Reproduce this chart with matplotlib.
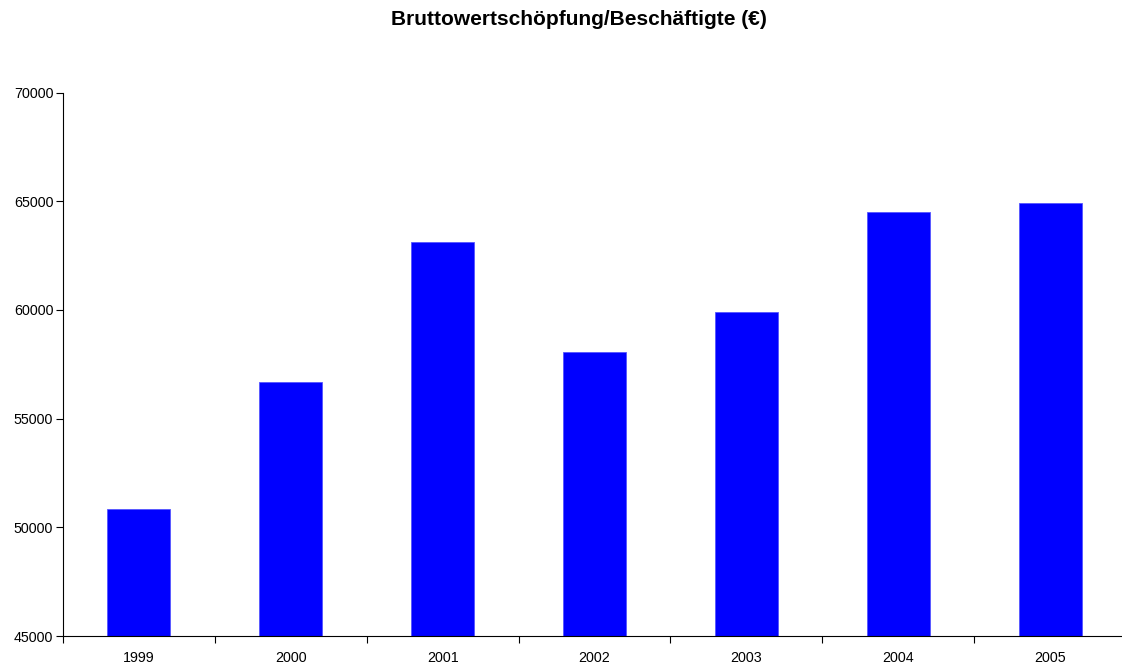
import matplotlib
matplotlib.use("Agg")
import matplotlib.pyplot as plt
import numpy as np

plt.rcParams['font.family'] = ['Liberation Sans', 'DejaVu Sans']

years = ["1999", "2000", "2001", "2002", "2003", "2004", "2005"]
values = [50830, 56680, 63120, 58060, 59900, 64490, 64930]
title = "Bruttowertschöpfung/Beschäftigte (€)"
yticks = [45000, 50000, 55000, 60000, 65000, 70000]

W, H = 1122, 667
fig = plt.figure(figsize=(W / 100, H / 100), dpi=100)
left, right, top, bottom = 63, 1126, 92.5, 636
ax = fig.add_axes([left / W, 1 - bottom / H, (right - left) / W, (bottom - top) / H])

x = np.arange(len(years))
ax.bar(x, values, width=0.415, color="#0000FF", edgecolor="#5555FF", linewidth=0.6, zorder=2)
ax.set_xlim(-0.5, len(years) - 0.5)
ax.set_ylim(45000, 70000)
ax.set_yticks(yticks)
ax.set_yticklabels([str(v) for v in yticks], fontsize=10.3)
ax.set_xticks(x)
ax.set_xticklabels(years, fontsize=10.3)
ax.tick_params(axis='x', length=0, pad=11)
ax.set_xticks(np.arange(len(years) + 1) - 0.5, minor=True)
ax.tick_params(axis='x', which='minor', length=5, direction='out', width=0.8)
ax.tick_params(axis='y', length=5, direction='out', width=0.8, pad=2)
for s in ['top', 'right']:
    ax.spines[s].set_visible(False)
for s in ['left', 'bottom']:
    ax.spines[s].set_linewidth(0.8)

fig.text(578.5 / W, 1 - 19.5 / H, title, ha='center', va='center', fontsize=15, fontweight='bold')

fig.savefig("out.png", dpi=100)
